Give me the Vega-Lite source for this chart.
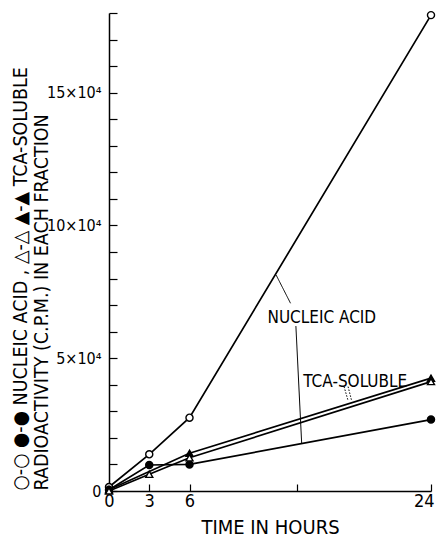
{
  "$schema": "https://vega.github.io/schema/vega-lite/v6.json",
  "width": 322,
  "height": 478,
  "autosize": {"type": "none"},
  "padding": {"left": 109, "top": 13, "right": 5, "bottom": 47},
  "background": "white",
  "config": {
    "view": {"stroke": null},
    "font": "DejaVu Sans Condensed, Liberation Sans Narrow, DejaVu Sans, sans-serif",
    "axis": {
      "grid": false,
      "domainColor": "black",
      "domainWidth": 1.5,
      "tickColor": "black",
      "tickWidth": 1.2,
      "labelColor": "black",
      "titleColor": "black",
      "labelFontWeight": "normal",
      "titleFontWeight": "normal",
      "labelOverlap": false,
      "labelFlush": false
    }
  },
  "datasets": {
    "series": [
      {"series": "NA_open", "marker": "circle", "fill": "open", "t": 0, "v": 0.15},
      {"series": "NA_open", "marker": "circle", "fill": "open", "t": 3, "v": 1.38},
      {"series": "NA_open", "marker": "circle", "fill": "open", "t": 6, "v": 2.76},
      {"series": "NA_open", "marker": "circle", "fill": "open", "t": 24, "v": 17.92},
      {"series": "NA_filled", "marker": "circle", "fill": "filled", "t": 0, "v": 0.05},
      {"series": "NA_filled", "marker": "circle", "fill": "filled", "t": 3, "v": 0.98},
      {"series": "NA_filled", "marker": "circle", "fill": "filled", "t": 6, "v": 1.0},
      {"series": "NA_filled", "marker": "circle", "fill": "filled", "t": 24, "v": 2.69},
      {"series": "TCA_filled", "marker": "triangle-up", "fill": "filled", "t": 0, "v": 0.05},
      {"series": "TCA_filled", "marker": "triangle-up", "fill": "filled", "t": 6, "v": 1.42},
      {"series": "TCA_filled", "marker": "triangle-up", "fill": "filled", "t": 24, "v": 4.25},
      {"series": "TCA_open", "marker": "triangle-up", "fill": "open", "t": 0, "v": 0.0},
      {"series": "TCA_open", "marker": "triangle-up", "fill": "open", "t": 3, "v": 0.63},
      {"series": "TCA_open", "marker": "triangle-up", "fill": "open", "t": 6, "v": 1.25},
      {"series": "TCA_open", "marker": "triangle-up", "fill": "open", "t": 24, "v": 4.12}
    ],
    "pointers": [
      {"kind": "solid", "t": 12.46, "v": 8.13, "t2": 13.53, "v2": 7.07},
      {"kind": "solid", "t": 13.93, "v": 6.21, "t2": 14.36, "v2": 1.8},
      {"kind": "dotted", "t": 17.52, "v": 3.93, "t2": 17.82, "v2": 3.4},
      {"kind": "dotted", "t": 17.82, "v": 3.93, "t2": 18.07, "v2": 3.43}
    ],
    "labels": [
      {"label": "NUCLEIC ACID", "t": 11.81, "v": 6.33},
      {"label": "TCA-SOLUBLE", "t": 14.48, "v": 3.93}
    ]
  },
  "layer": [
    {
      "data": {"name": "series"},
      "mark": {"type": "line", "color": "black", "strokeWidth": 1.7},
      "encoding": {
        "x": {
          "field": "t", "type": "quantitative",
          "scale": {"domain": [0, 24], "nice": false, "zero": false},
          "axis": {
            "title": "TIME IN HOURS",
            "values": [0, 3, 6, 14, 24],
            "tickCount": 10,
            "labelExpr": "datum.value == 14 ? '' : datum.label",
            "labelOverlap": false,
            "labelAlign": {"condition": {"test": "datum.value == 24", "value": "right"}, "value": "center"},
            "labelOffset": {"condition": {"test": "datum.value == 24", "value": 3}, "value": 0},
            "tickSize": -7,
            "labelPadding": 8,
            "labelFontSize": 18,
            "titleFontSize": 20,
            "titleY": 42,
            "titleBaseline": "alphabetic"
          }
        },
        "y": {
          "field": "v", "type": "quantitative",
          "scale": {"domain": [0, 18], "nice": false, "zero": true},
          "axis": {
            "title": ["○-○ ●-● NUCLEIC ACID ,   △-△ ▲-▲ TCA-SOLUBLE", "RADIOACTIVITY (C.P.M.) IN EACH FRACTION"],
            "values": [0, 1, 2, 3, 4, 5, 6, 7, 8, 9, 10, 11, 12, 13, 14, 15, 16, 17, 18],
            "tickCount": 25,
            "labelExpr": "datum.value == 0 ? '0' : datum.value == 5 ? '5×10⁴' : datum.value == 10 ? '10×10⁴' : datum.value == 15 ? '15×10⁴' : ''",
            "labelOverlap": false,
            "tickSize": -8,
            "labelPadding": 16,
            "labelFontSize": 16,
            "titleFontSize": 19.5,
            "titleAngle": -90,
            "titleX": -89,
            "titleY": 477,
            "titleAlign": "left",
            "titleBaseline": "middle",
            "titleLineHeight": 21
          }
        },
        "detail": {"field": "series"}
      }
    },
    {
      "data": {"name": "pointers"},
      "mark": {"type": "rule", "color": "black", "strokeWidth": 1},
      "encoding": {
        "x": {"field": "t", "type": "quantitative"},
        "y": {"field": "v", "type": "quantitative"},
        "x2": {"field": "t2"},
        "y2": {"field": "v2"},
        "strokeDash": {
          "field": "kind", "type": "nominal",
          "scale": {"domain": ["solid", "dotted"], "range": [[1, 0], [1.5, 1.5]]},
          "legend": null
        }
      }
    },
    {
      "data": {"name": "series"},
      "mark": {"type": "point", "filled": true, "stroke": "black", "strokeWidth": 1.4, "size": 50, "opacity": 1},
      "encoding": {
        "x": {"field": "t", "type": "quantitative"},
        "y": {"field": "v", "type": "quantitative"},
        "shape": {
          "field": "marker", "type": "nominal",
          "scale": {"domain": ["circle", "triangle-up"], "range": ["circle", "triangle-up"]},
          "legend": null
        },
        "fill": {
          "field": "fill", "type": "nominal",
          "scale": {"domain": ["open", "filled"], "range": ["white", "black"]},
          "legend": null
        }
      }
    },
    {
      "data": {"name": "labels"},
      "mark": {"type": "text", "align": "left", "baseline": "alphabetic", "fontSize": 17, "color": "black"},
      "encoding": {
        "x": {"field": "t", "type": "quantitative"},
        "y": {"field": "v", "type": "quantitative"},
        "text": {"field": "label"}
      }
    }
  ]
}
